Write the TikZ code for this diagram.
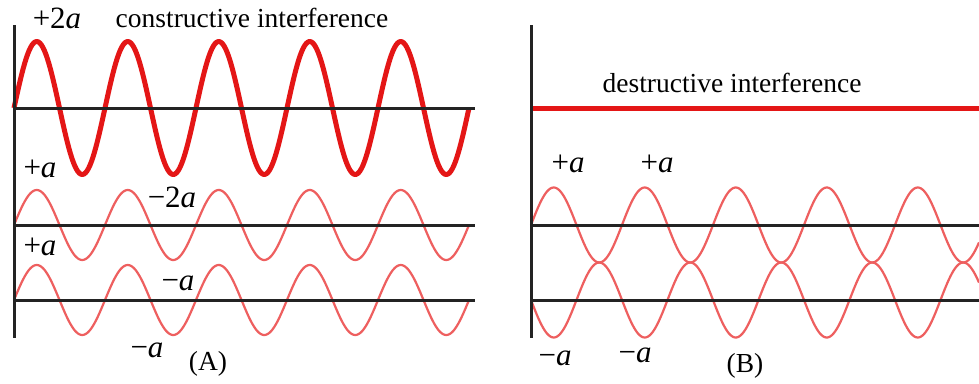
\documentclass[tikz,border=0pt]{standalone}
\usepackage{fontspec}
\setmainfont{Liberation Serif}
\definecolor{thickred}{RGB}{228,22,22}
\definecolor{thinred}{RGB}{238,95,95}
\definecolor{axisgray}{RGB}{35,35,35}
\newcommand{\va}{\textit{a}}
\tikzset{
  axisline/.style={draw=axisgray, line width=3pt},
  bigwave/.style={draw=thickred, line width=5pt, line join=round},
  smallwave/.style={draw=thinred, line width=2.2pt, line join=round},
  lbl/.style={anchor=base, inner sep=0pt, font=\fontsize{27.5}{30}\selectfont},
  mlbl/.style={anchor=base, inner sep=0pt, font=\fontsize{31}{34}\selectfont}
}
\begin{document}
\begin{tikzpicture}[x=1pt, y=-1pt]
\useasboundingbox[fill=white] (0,0) rectangle (979,383);
% ---------- Panel A ----------
\coordinate (aTop) at (14,25);
\coordinate (aBot) at (14,338);
\coordinate (a1L) at (14,108);  \coordinate (a1R) at (475,108);
\coordinate (a2L) at (14,225);  \coordinate (a2R) at (475,225);
\coordinate (a3L) at (14,300);  \coordinate (a3R) at (475,300);
\draw[bigwave] plot[domain=0:455, samples=300] ({14+\x},{108-66.5*sin(\x/91*360)});
\draw[smallwave] plot[domain=0:455, samples=300] ({14+\x},{225-35*sin(\x/91*360)});
\draw[smallwave] plot[domain=0:455, samples=300] ({14+\x},{300-35*sin(\x/91*360)});
\draw[axisline] (aTop) -- (aBot);
\draw[axisline] (a1L) -- (a1R);
\draw[axisline] (a2L) -- (a2R);
\draw[axisline] (a3L) -- (a3R);
\node[mlbl] (p2a) at (57,28) {+2\va};
\node[lbl] (cons) at (252,27) {constructive interference};
\node[mlbl] (pa1) at (40,177) {+\va};
\node[mlbl] (m2a) at (172,207) {−2\va};
\node[mlbl] (pa2) at (40,255) {+\va};
\node[mlbl] (ma1) at (178,290) {−\va};
\node[mlbl] (ma2) at (147,357) {−\va};
\node[lbl] (capA) at (208,370) {(A)};
% ---------- Panel B ----------
\coordinate (bTop) at (531,25);
\coordinate (bBot) at (531,338);
\coordinate (b1L) at (531,108); \coordinate (b1R) at (979,108);
\coordinate (b2L) at (531,225); \coordinate (b2R) at (979,225);
\coordinate (b3L) at (531,300); \coordinate (b3R) at (979,300);
\draw[smallwave] plot[domain=0:448, samples=300] ({531+\x},{225-37.5*sin(\x/91*360)});
\draw[smallwave] plot[domain=0:448, samples=300] ({531+\x},{300+37.5*sin(\x/91*360)});
\draw[axisline] (b2L) -- (b2R);
\draw[axisline] (b3L) -- (b3R);
\draw[draw=thickred, line width=5pt] (b1L) -- (b1R);
\draw[axisline] (bTop) -- (bBot);
\node[lbl] (dest) at (732,92) {destructive interference};
\node[mlbl] (bpa1) at (568,172) {+\va};
\node[mlbl] (bpa2) at (657,172) {+\va};
\node[mlbl] (bma1) at (555,365) {−\va};
\node[mlbl] (bma2) at (635,362) {−\va};
\node[lbl] (capB) at (745,372) {(B)};
\end{tikzpicture}
\end{document}
